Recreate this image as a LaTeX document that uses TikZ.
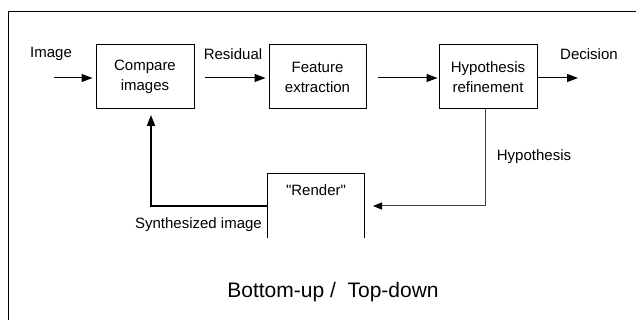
\documentclass[tikz,border=0pt]{standalone}
\usepackage{fontspec}
\setmainfont{Liberation Sans}
\usepackage{tikz}
\usetikzlibrary{arrows.meta}

\tikzset{
  block/.style={draw, line width=1pt, minimum width=98pt, minimum height=64pt,
    inner sep=0pt, align=center, font=\fontsize{15}{20}\selectfont},
  lbl/.style={inner sep=0pt, font=\fontsize{15}{18}\selectfont},
  flow/.style={line width=1pt, -{Triangle[length=11pt,width=8pt]}}
}

\begin{document}
\begin{tikzpicture}[x=1pt,y=-1pt]
  \useasboundingbox (0,0) rectangle (636,320);

  % frame (top and left only)
  \draw[line width=1pt] (8,320) -- (8,12) -- (636,12);

  % blocks
  \node[block] (compare) at (145,77) {Compare\\images};
  \node[block, minimum width=97pt] (feature) at (317.5,77) {Feature\\extraction};
  \node[block] (hypo) at (488,77) {Hypothesis\\refinement};

  % open "Render" box
  \node[minimum width=96pt, minimum height=64pt, inner sep=0pt] (render) at (316,206) {};
  \node[lbl] (rendertxt) at (316,190) {\textquotedbl Render\textquotedbl};
  \draw[line width=1pt] (render.south west) -- (render.north west)
    -- (render.north east) -- (render.south east);

  % free ends of the connectors
  \coordinate (imgin) at (54,78);
  \coordinate (decout) at (578,78);
  \coordinate (hypdown) at (485,109);
  \coordinate (rendin) at (373,206);
  \coordinate (synstart) at (268,206);
  \coordinate (synup) at (151,115);

  % forward path
  \draw[flow, shorten >=3pt] (imgin) -- (compare.west |- imgin);
  \draw[flow, shorten <=10pt, shorten >=3pt] (compare.east |- imgin) -- (feature.west |- imgin);
  \draw[flow, shorten <=11pt, shorten >=1pt] (feature.east |- imgin) -- (hypo.west |- imgin);
  \draw[flow] (hypo.east |- decout) -- (decout);

  % feedback path
  \draw[line width=1pt, draw=black!75,
    -{Triangle[length=9pt,width=7pt,color=black]}] (hypdown) |- (rendin);
  \draw[line width=2pt, -{Triangle[length=11pt,width=8pt]}] (synstart) -| (synup);

  % labels
  \node[lbl] (imagelbl) at (51,54) {Image};
  \node[lbl] (residlbl) at (233,54) {Residual};
  \node[lbl] (declbl) at (589,54) {Decision};
  \node[lbl] (hyplbl) at (534,157) {Hypothesis};
  \node[lbl, anchor=east] (synlbl) at (262,225) {Synthesized image};

  % title
  \node[inner sep=0pt, font=\fontsize{21}{24}\selectfont] (title) at (333,292) {Bottom-up /\ \ Top-down};
\end{tikzpicture}
\end{document}
